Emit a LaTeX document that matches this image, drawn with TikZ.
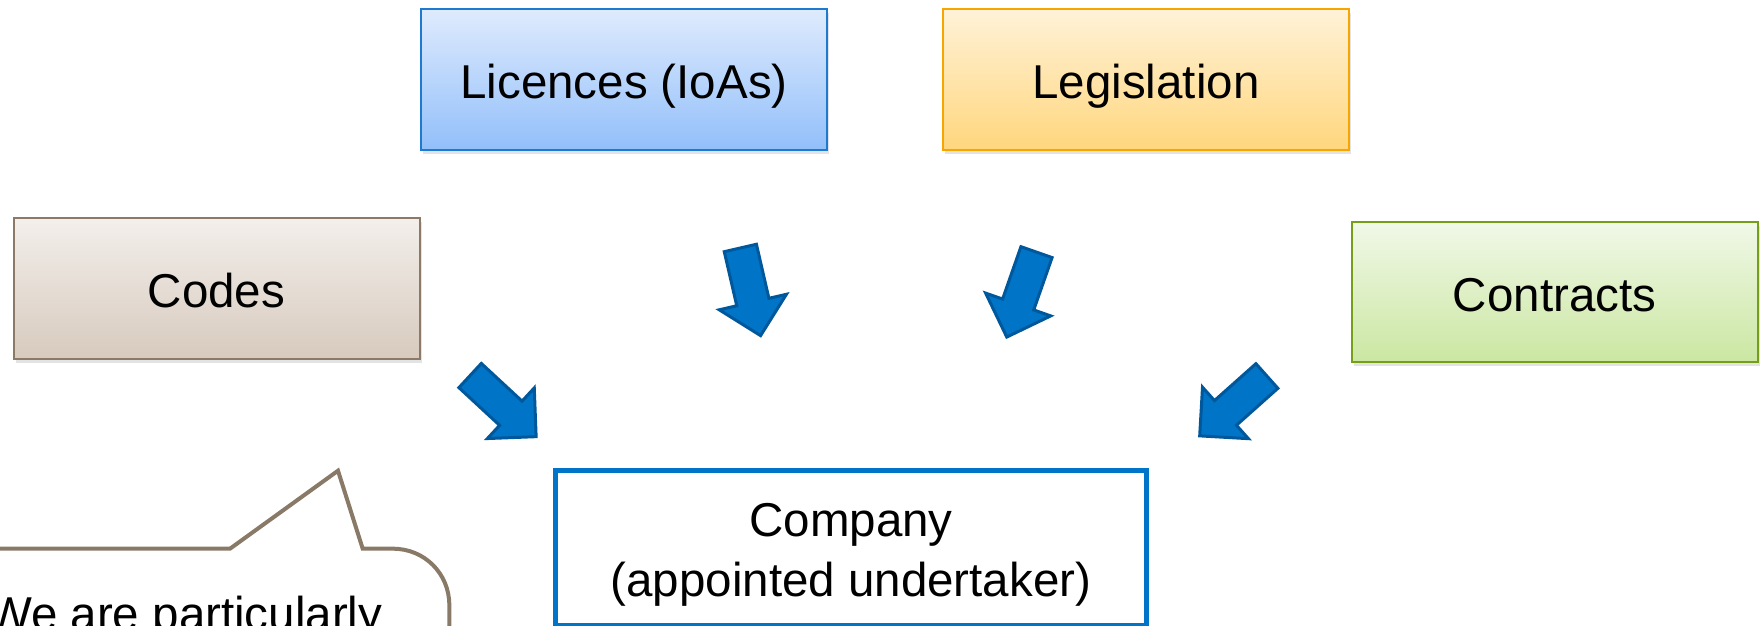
\documentclass[tikz,border=0pt]{standalone}
\usepackage{fontspec}
\setmainfont{Liberation Sans}
\usetikzlibrary{shapes.arrows,shadows}
\definecolor{licTop}{RGB}{223,235,253}
\definecolor{licBot}{RGB}{146,191,250}
\definecolor{licLine}{RGB}{30,122,206}
\definecolor{legTop}{RGB}{255,242,216}
\definecolor{legBot}{RGB}{255,214,125}
\definecolor{legLine}{RGB}{247,166,0}
\definecolor{codTop}{RGB}{243,239,235}
\definecolor{codBot}{RGB}{215,202,190}
\definecolor{codLine}{RGB}{140,122,104}
\definecolor{conTop}{RGB}{241,248,232}
\definecolor{conBot}{RGB}{203,231,162}
\definecolor{conLine}{RGB}{118,158,24}
\definecolor{compLine}{RGB}{0,116,200}
\definecolor{arrowFill}{RGB}{0,116,198}
\definecolor{arrowLine}{RGB}{0,88,156}
\definecolor{calloutLine}{RGB}{137,122,104}
\begin{document}
\begin{tikzpicture}[x=1pt,y=-1pt,
  bigtext/.style={font=\fontsize{47.5pt}{56pt}\selectfont},
  box/.style={bigtext, rectangle, line width=2pt, minimum width=406pt, minimum height=141pt,
    inner sep=0pt, text height=38pt, text depth=0pt,
    drop shadow={shadow xshift=2pt, shadow yshift=-4pt, opacity=0.22}},
  licbox/.style={box, draw=licLine, top color=licTop, bottom color=licBot},
  legbox/.style={box, draw=legLine, top color=legTop, bottom color=legBot},
  codbox/.style={box, draw=codLine, top color=codTop, bottom color=codBot},
  conbox/.style={box, draw=conLine, top color=conTop, bottom color=conBot},
  compbox/.style={font=\fontsize{47.5pt}{60pt}\selectfont, rectangle, draw=compLine, line width=5pt,
    fill=white, align=center, minimum width=591pt, minimum height=155pt, inner sep=0pt},
  blockarrow/.style={single arrow, draw=arrowLine, fill=arrowFill, line width=3pt,
    minimum height=90pt, inner sep=0pt, inner ysep=15pt, single arrow head extend=18pt,
    single arrow head indent=0pt, anchor=tail},
  calloutpath/.style={draw=calloutLine, line width=4pt, miter limit=10},
]
\useasboundingbox (0,0) rectangle (1763,626);
\clip (0,0) rectangle (1763,626);

\node[licbox] (lic) at (624,79.5) {Licences (IoAs)};
\node[legbox] (leg) at (1146,79.5) {Legislation};
\node[codbox] (cod) at (216.5,288.5) {Codes};
\node[conbox, minimum height=140pt] (con) at (1554.5,292) {Contracts};

\node[compbox] (comp) at (851,548) {\rule{0pt}{47.5pt}Company\\(appointed undertaker)};

\node[blockarrow, rotate=-42.8] (arrA) at (469,374.5) {};
\node[blockarrow, rotate=-77] (arrB) at (740,246.5) {};
\node[blockarrow, rotate=-109.3] (arrC) at (1037,250.7) {};
\node[blockarrow, rotate=-138.3] (arrD) at (1268,375) {};

\coordinate (cl0) at (-60,548.7);
\coordinate (cl1) at (230,548.7);
\coordinate (cltip) at (338,470.7);
\coordinate (cl2) at (362.7,548.7);
\coordinate (cl3) at (393,548.7);
\coordinate (cl4) at (449.3,605);
\coordinate (cl5) at (449.3,700);
\draw[calloutpath] (cl0) -- (cl1) -- (cltip) -- (cl2) -- (cl3)
  .. controls (424.5,548.7) and (449.3,573.5) .. (cl4) -- (cl5);
\node[bigtext, anchor=base west, inner sep=0pt] (note) at (-13,630) {We are particularly};
\end{tikzpicture}
\end{document}
